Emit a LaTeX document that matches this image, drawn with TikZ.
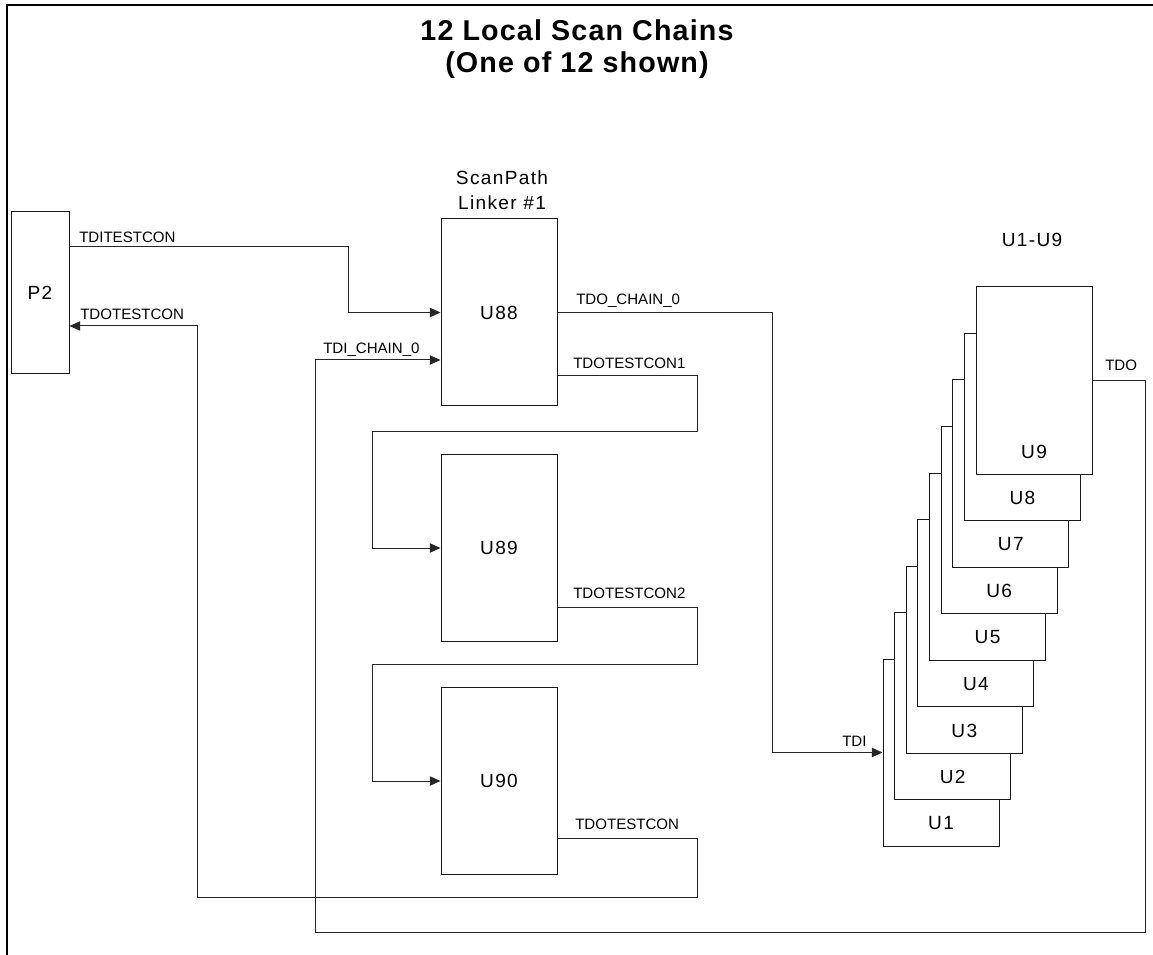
\documentclass[tikz,border=0pt]{standalone}
\usepackage{fontspec}
\setmainfont{Liberation Sans}
\newfontfamily\bigfont[LetterSpace=7]{Liberation Sans}
\newfontfamily\titlefont[LetterSpace=4]{Liberation Sans}
\usetikzlibrary{arrows.meta,calc}
\begin{document}
\begin{tikzpicture}[x=0.75pt,y=-0.75pt,
  wire/.style={draw=black!85, line width=0.75pt},
  arr/.style={wire,-{Triangle[length=8pt,width=7pt]}},
  chip/.style={draw=black!90, line width=0.75pt, fill=white, minimum width=87pt,
    minimum height=140.25pt, inner sep=0pt, font=\bigfont\fontsize{14.3}{16}\selectfont},
  sig/.style={font=\fontsize{11.3}{13}\selectfont, inner sep=0pt, anchor=base west},
  captext/.style={font=\bigfont\fontsize{14.3}{18.75}\selectfont, inner sep=0pt, align=center},
]
\useasboundingbox (0,0) rectangle (1153,955);
\fill[white] (0,0) rectangle (1153,955);
\draw[line width=1.6pt] (7,955) -- (7,5) -- (1153,5);

\node[font=\titlefont\bfseries\fontsize{21.5}{24}\selectfont, align=center] (title) at (577,49)
  {12 Local Scan Chains\\(One of 12 shown)};

% connector P2
\node[chip, minimum width=43.5pt, minimum height=121.5pt] (P2) at (40,293) {P2};

% scan path linkers
\node[chip] (U88) at (499,312.5) {U88};
\node[chip] (U89) at (499,548) {U89};
\node[chip] (U90) at (499,781) {U90};
\node[captext] (spl) at (502,190) {ScanPath\\Linker \#1};

% stacked devices U1..U9
\foreach \k in {1,...,9}{
  \node[chip] (U\k) at ({941+(\k-1)*11.625},{752.5-(\k-1)*46.5}) {};
  \node[font=\bigfont\fontsize{14.3}{16}\selectfont] (L\k) at ($(U\k.south)+(0,-23)$) {U\k};
}
\node[captext] (ucap) at (1032,240) {U1-U9};

% connection points
\coordinate (p2out) at ($(P2.east)+(0,-46)$);
\coordinate (p2in) at ($(P2.east)+(0,33)$);
\coordinate (u88tdi) at ($(U88.west)+(0,47.5)$);
\coordinate (u88out1) at ($(U88.east)+(0,63)$);
\coordinate (u89out) at ($(U89.east)+(0,59)$);
\coordinate (u90out) at ($(U90.east)+(0,57)$);

% connectors
\draw[arr] (p2out) -- ++(279,0) |- (U88.west);
\draw[arr] (u88out1) -- ++(140,0) -- ++(0,56.5) -- ++(-325,0) |- (U89.west);
\draw[arr] (u89out) -- ++(140,0) -- ++(0,57) -- ++(-325,0) |- (U90.west);
\draw[arr] (u90out) -- ++(140,0) -- ++(0,59) -- ++(-500,0) |- (p2in);
\draw[arr] (U88.east) -- ++(215,0) |- (U1.west);
\draw[arr] (U9.east) -- ++(53,0) -- ++(0,551.5) -- ++(-830,0) |- (u88tdi);

% signal labels
\node[sig] (s1) at (79,243) {TDITESTCON};
\node[sig] (s2) at (80,320) {TDOTESTCON};
\node[sig] (s3) at (323,354) {TDI\_CHAIN\_0};
\node[sig] (s4) at (576,305) {TDO\_CHAIN\_0};
\node[sig] (s5) at (573,369) {TDOTESTCON1};
\node[sig] (s6) at (573,598) {TDOTESTCON2};
\node[sig] (s7) at (575,829) {TDOTESTCON};
\node[sig] (s8) at (842,746) {TDI};
\node[sig] (s9) at (1105,371) {TDO};
\end{tikzpicture}
\end{document}
